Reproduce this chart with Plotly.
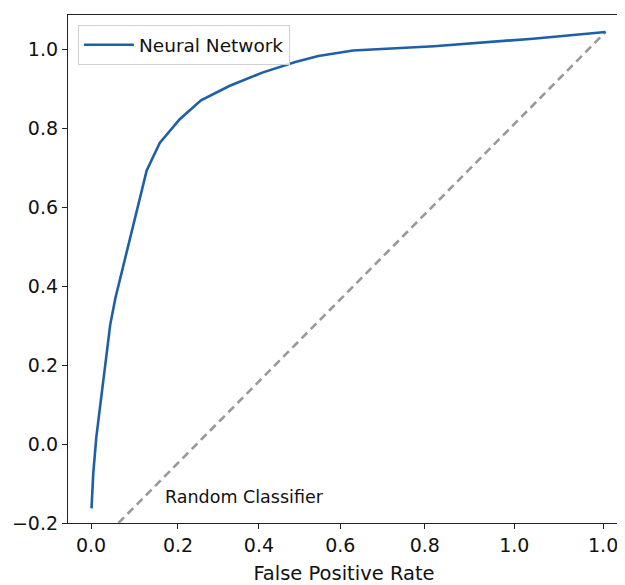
import plotly.graph_objects as go

# ROC curve; x in axis units of the drawn scale
fpr = [0.001, 0.005, 0.012, 0.021, 0.033, 0.044, 0.056, 0.075, 0.101, 0.128,
       0.158, 0.204, 0.253, 0.318, 0.394, 0.470, 0.523, 0.603, 0.789, 1.017, 1.184]
tpr = [-0.163, -0.075, 0.017, 0.101, 0.202, 0.302, 0.370, 0.454, 0.571, 0.693,
       0.763, 0.823, 0.871, 0.907, 0.941, 0.968, 0.983, 0.997, 1.008, 1.027, 1.044]

# Random classifier diagonal endpoints
diag_x = [0.063, 1.184]
diag_y = [-0.200, 1.044]

x_tickvals = [0.0, 0.2, 0.3863, 0.5735, 0.7678, 0.9738, 1.1783]
x_ticktext = ["0.0", "0.2", "0.4", "0.6", "0.8", "1.0", "1.0"]
y_tickvals = [-0.2, 0.0, 0.2, 0.4, 0.6, 0.8, 1.0]
y_ticktext = ["\u22120.2", "0.0", "0.2", "0.4", "0.6", "0.8", "1.0"]

FONT = "DejaVu Sans"

fig = go.Figure()
fig.add_trace(go.Scatter(
    x=diag_x, y=diag_y, mode="lines", showlegend=False,
    line=dict(color="#999999", width=2.6, dash="8px,5px"),
))
fig.add_trace(go.Scatter(
    x=fpr, y=tpr, mode="lines", name="Neural Network",
    line=dict(color="#1f5fa8", width=2.6),
))

fig.add_annotation(
    x=0.166, y=-0.134, xref="x", yref="y", text="Random Classifier",
    showarrow=False, xanchor="left", yanchor="middle",
    font=dict(family=FONT, size=17.5, color="#111111"),
)

# clipped y-axis label (only its baseline edge is visible in the reference)
fig.add_annotation(
    x=0.0, y=0.5, xref="paper", yref="paper", text="True Positive Rate",
    showarrow=False, textangle=-90, xanchor="right", yanchor="middle",
    xshift=-55, font=dict(family=FONT, size=19, color="#111111"),
)

fig.update_layout(
    width=617, height=577,
    margin=dict(l=56, r=4, t=7, b=59),
    paper_bgcolor="white", plot_bgcolor="white",
    font=dict(family=FONT, size=19, color="#111111"),
    showlegend=True,
    legend=dict(
        x=0.018, y=0.98, xanchor="left", yanchor="top",
        bgcolor="rgba(255,255,255,0.8)", bordercolor="#d0d0d0", borderwidth=1,
        font=dict(family=FONT, size=18.5, color="#111111"),
        itemwidth=50,
    ),
    xaxis=dict(
        range=[-0.0531, 1.2171], tickmode="array",
        tickvals=x_tickvals, ticktext=x_ticktext,
        showgrid=False, zeroline=False,
        showline=True, linecolor="#222222", linewidth=1.3, mirror=True,
        ticks="outside", ticklen=5, tickwidth=1.2, tickcolor="#222222",
        title=dict(text="False Positive Rate", standoff=11,
                   font=dict(family=FONT, size=19.5)),
    ),
    yaxis=dict(
        range=[-0.2, 1.087], tickmode="array",
        tickvals=y_tickvals, ticktext=y_ticktext,
        showgrid=False, zeroline=False,
        showline=True, linecolor="#222222", linewidth=1.3, mirror=True,
        ticks="outside", ticklen=5, tickwidth=1.2, tickcolor="#222222",
    ),
)

fig.write_html("out.html")
